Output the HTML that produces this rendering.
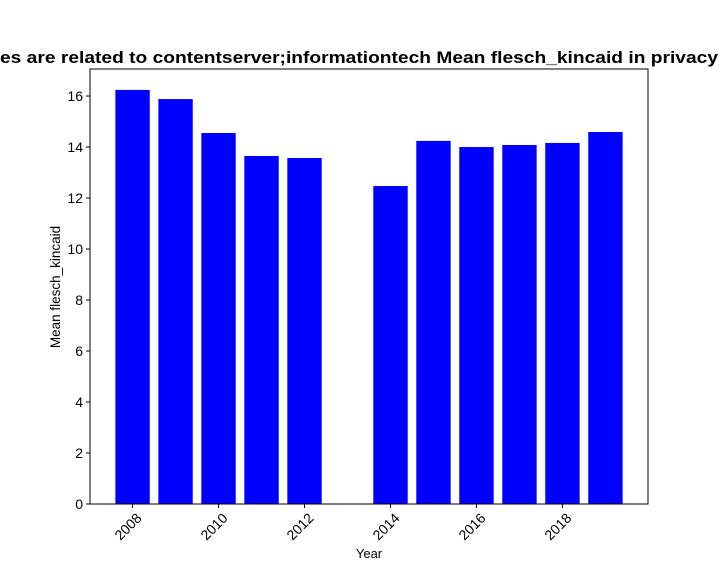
<!DOCTYPE html>
<html><head><meta charset="utf-8"><style>
body{margin:0;background:#fff;}
svg{display:block;font-family:"Liberation Sans","DejaVu Sans",sans-serif;}
</style></head><body>
<svg id="chart" width="720" height="576">
<rect width="720" height="576" fill="#fff"/>
<text x="0" y="63" font-size="16.5" font-weight="bold" textLength="718" lengthAdjust="spacingAndGlyphs">es are related to contentserver;informationtech Mean flesch_kincaid in privacy</text>
<g id="bars"></g>
<g id="axes"></g>
<text x="369" y="558" font-size="13" text-anchor="middle">Year</text>
<text transform="translate(60,287) rotate(-90)" font-size="13.5" text-anchor="middle">Mean flesch_kincaid</text>
</svg>
<script>
const years=[2008,2009,2010,2011,2012,2014,2015,2016,2017,2018,2019];
const values=[16.24,15.88,14.55,13.65,13.57,12.47,14.24,14.0,14.08,14.16,14.59];
const yTicks=[0,2,4,6,8,10,12,14,16];
const xTicks=[2008,2010,2012,2014,2016,2018];
const NS="http://www.w3.org/2000/svg";
const L=90,R=648,T=69,B=504;
const xMin=2007.01,xMax=2019.99,yMax=17.06;
const sx=v=>L+(v-xMin)/(xMax-xMin)*(R-L);
const sy=v=>B-v/yMax*(B-T);
function mk(tag,attrs,parent){const e=document.createElementNS(NS,tag);for(const k in attrs)e.setAttribute(k,attrs[k]);parent.appendChild(e);return e;}
const bars=document.getElementById('bars'),axes=document.getElementById('axes');
years.forEach((y,i)=>{
  const x0=sx(y-0.4),x1=sx(y+0.4);
  const r=mk('rect',{x:x0,y:sy(values[i]),width:x1-x0,height:B-sy(values[i]),fill:'#0000ff'},bars);
  
  
});
const frame=mk('rect',{x:L,y:T,width:R-L,height:B-T,fill:'none',stroke:'#000','stroke-width':1},axes);


yTicks.forEach(v=>{
  const y=sy(v);
  mk('line',{x1:L-4,x2:L,y1:y,y2:y,stroke:'#000'},axes);
  const t=mk('text',{x:L-7,y:y+5,'font-size':14,'text-anchor':'end'},axes);
  t.textContent=v;
  
  
});
xTicks.forEach(v=>{
  const x=sx(v);
  mk('line',{x1:x,x2:x,y1:B,y2:B+4,stroke:'#000'},axes);
  const ax=x+10,ay=B+15;
  const t=mk('text',{x:ax,y:ay,'font-size':14,'text-anchor':'end',transform:`rotate(-45 ${ax} ${ay})`},axes);
  t.textContent=v;
  
  
});
</script>
</body></html>
